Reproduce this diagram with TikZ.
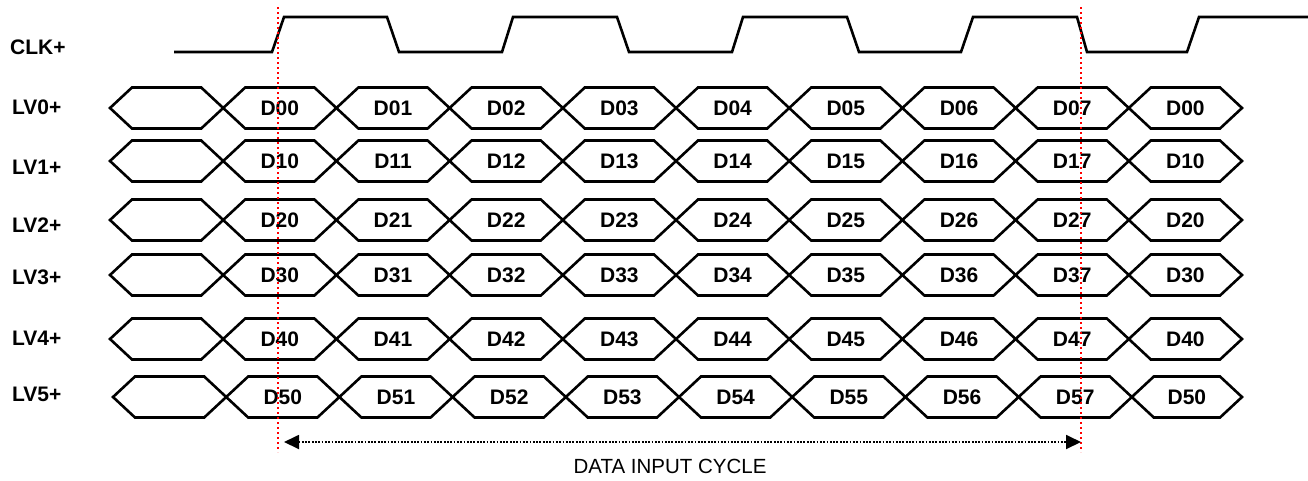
\documentclass[tikz,border=0pt]{standalone}
\usepackage{fontspec}
\setmainfont{Liberation Sans}
\usetikzlibrary{arrows.meta}
\begin{document}
\begin{tikzpicture}[x=1pt,y=-1pt,
  lab/.style={font=\fontsize{21}{25}\selectfont\bfseries, inner sep=0pt},
  dlab/.style={font=\fontsize{21}{25}\selectfont\bfseries, inner sep=0pt},
  bus/.style={draw=black, line width=2.6pt, line join=miter},
  clk/.style={draw=black, line width=2.6pt},
  marker/.style={draw=red, line width=2.4pt, dash pattern=on 2pt off 3pt},
  span/.style={draw=black, line width=1.8pt, dash pattern=on 1.8pt off 1.5pt, {Triangle[length=15pt,width=14pt]}-{Triangle[length=15pt,width=14pt]}}]
\path[use as bounding box, fill=white] (0,0) rectangle (1308,480);
% clock
\node[lab, anchor=west] (clklab) at (10,47) {CLK+};
\draw[clk] (174,52) -- (272,52) -- (284,17) -- (387,17) -- (399,52) -- (502,52) -- (513,17) -- (617,17) -- (629,52) -- (732,52) -- (743,17) -- (847,17) -- (859,52) -- (961,52) -- (973,17) -- (1077,17) -- (1087,52) -- (1187,52) -- (1199,17) -- (1308,17);
% buses
\foreach \r/\yc/\ly in {0/108/107, 1/161/167, 2/220/225, 3/275/277, 4/339/338, 5/397/394}{
  \node[lab, anchor=west] (lv\r) at (12,\ly) {LV\r+};
  \foreach \i in {0,...,9}{
    \pgfmathsetmacro\sh{(\r==5) ? 3 : 0}
    \pgfmathsetmacro\xa{110+113.2*\i+\sh}
    \pgfmathsetmacro\xb{(\i==9) ? 1242 : (110+113.2*(\i+1)+\sh)}
    \draw[bus] (\xa,\yc) -- (\xa+22,\yc-20.5) -- (\xb-22,\yc-20.5) -- (\xb,\yc) -- (\xb-22,\yc+20.5) -- (\xa+22,\yc+20.5) -- cycle;
    \ifnum\i>0
      \pgfmathtruncatemacro\k{(\i==9) ? 0 : (\i-1)}
      \node[dlab] (d\r\i) at ({(\xa+\xb)/2},\yc) {D\r\k};
    \fi
  }
}
% markers
\coordinate (m1t) at (278,7);
\coordinate (m1b) at (278,452);
\coordinate (m2t) at (1081,7);
\coordinate (m2b) at (1081,452);
\draw[marker] (m1t) -- (m1b);
\draw[marker] (m2t) -- (m2b);
% span arrow
\coordinate (al) at (284,442);
\coordinate (ar) at (1081,442);
\draw[span] (al) -- (ar);
\node[font=\fontsize{20.5}{24}\selectfont, inner sep=0pt] (cyc) at (670,466) {DATA INPUT CYCLE};
\end{tikzpicture}
\end{document}
